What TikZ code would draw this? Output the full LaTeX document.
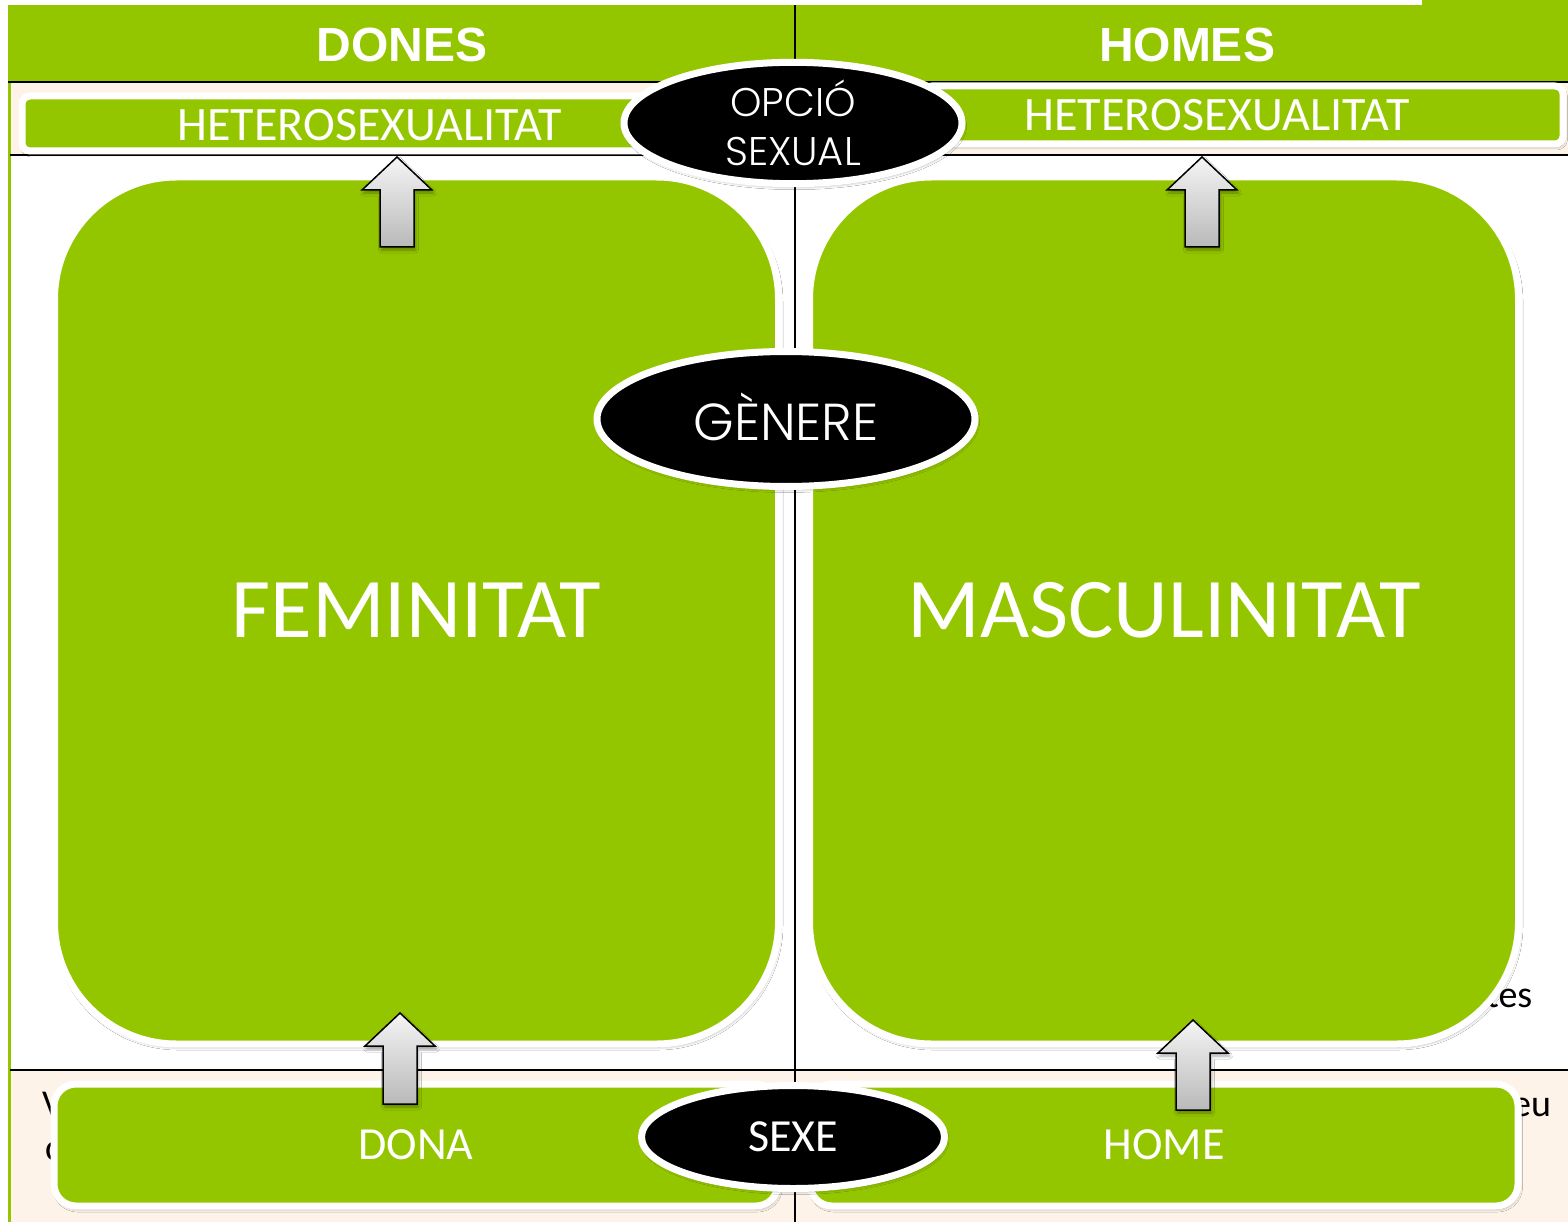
\documentclass[tikz,border=0pt]{standalone}
\usepackage{fontspec}
\setmainfont{Carlito}
\newfontfamily\hdrfont{Liberation Sans}
\newfontfamily\geofont{Poppins}[UprightFont={* Light}]
\usetikzlibrary{shapes.geometric,shadows.blur}
\definecolor{grn}{RGB}{148,198,0}
\definecolor{crm}{RGB}{253,243,232}
\tikzset{
  softshadow/.style={blur shadow={shadow xshift=1.5pt, shadow yshift=-3pt, shadow blur steps=6, shadow blur radius=3pt, shadow opacity=35}},
  bigbox/.style={rectangle, rounded corners=122pt, fill=grn, draw=white, line width=7pt, softshadow, text=white, font=\fontsize{85}{90}\selectfont, inner sep=0pt},
  barbox/.style={rectangle, rounded corners=8pt, fill=grn, draw=white, line width=7pt, softshadow, inner sep=0pt},
  basebox/.style={rectangle, rounded corners=22pt, fill=grn, draw=white, line width=7pt, softshadow, text=white, font=\fontsize{46}{50}\selectfont, inner sep=0pt},
  bartext/.style={text=white, font=\fontsize{48}{50}\selectfont, inner sep=0pt},
  hdrtext/.style={text=white, font=\hdrfont\bfseries\fontsize{48}{50}\selectfont, inner sep=0pt},
  oval/.style={ellipse, fill=black, draw=white, line width=7pt, softshadow, text=white, inner sep=0pt, align=center},
  blockarrow/.style={draw=black, line width=1.5pt, top color=gray!8, bottom color=gray!55, softshadow, line join=miter},
  rule/.style={black, line width=2pt},
  ghost/.style={text=black, font=\fontsize{38}{40}\selectfont, inner sep=0pt, anchor=base west},
}
\newcommand\myuparrow[4]{%
  \draw[blockarrow] ({#1-17},#4) -- ({#1-17},#3) -- ({#1-35},#3) -- (#1,#2)
    -- ({#1+35},#3) -- ({#1+17},#3) -- ({#1+17},#4) -- cycle;}
\begin{document}
\begin{tikzpicture}[x=1pt,y=-1pt]
\useasboundingbox (0,0) rectangle (1568,1222);
\fill[white] (0,0) rectangle (1568,1222);
% table background
\fill[grn] (8,5) rectangle (1568,82);
\fill[grn] (1422,0) rectangle (1568,5);
\fill[crm] (10,83) rectangle (1568,155);
\fill[crm] (10,1070) rectangle (1568,1222);
\draw[grn, line width=3pt] (9,5) -- (9,1222);
\draw[rule] (8,82) -- (1568,82);
\draw[rule] (10,155) -- (1568,155);
\draw[rule] (10,1070) -- (1568,1070);
\draw[rule] (795,5) -- (795,1222);
% header texts
\node[hdrtext] (dones) at (402,45) {DONES};
\node[hdrtext] (homes) at (1187,45) {HOMES};
% text fragments behind the boxes
\node[ghost] (g1) at (1486,1007) {tes};
\node[ghost] (g2) at (1512,1116) {eu};
\node[ghost] (g3) at (42,1116) {V};
\node[ghost] (g4) at (45,1160) {c};
% big boxes
\node[bigbox, minimum width=724pt, minimum height=867pt] (fem) at (416.5,610.5) {FEMINITAT};
\node[bigbox, minimum width=709pt, minimum height=867pt] (masc) at (1164,610.5) {MASCULINITAT};
% sexual orientation bars
\node[barbox, minimum width=643pt, minimum height=55pt] (hetL) at (343.5,123.5) {};
\node[bartext] (hetLt) at (370,125) {HETEROSEXUALITAT};
\node[barbox, minimum width=639pt, minimum height=58pt] (hetR) at (1243.5,115) {};
\node[bartext] (hetRt) at (1217,115) {HETEROSEXUALITAT};
% sex bars
\node[basebox, minimum width=724pt, minimum height=122pt] (dona) at (416,1145) {DONA};
\node[basebox, minimum width=708pt, minimum height=122pt] (home) at (1164,1145) {HOME};
% arrows
\myuparrow{397}{157}{190}{247}
\myuparrow{1202}{157}{190}{247}
\myuparrow{400}{1013}{1046}{1104}
\myuparrow{1193}{1020}{1053}{1110}
% ovals
\node[oval, minimum width=338pt, minimum height=111pt, font=\geofont\fontsize{40}{47}\selectfont] (opcio) at (793,123) {\raisebox{2pt}{OPCIÓ}\\SEXUAL};
\node[oval, minimum width=378pt, minimum height=135pt, font=\geofont\fontsize{52}{56}\selectfont] (genere) at (786,419) {\raisebox{5pt}{GÈNERE}};
\node[oval, minimum width=303pt, minimum height=103pt, font=\fontsize{46}{50}\selectfont] (sexe) at (793,1137) {SEXE};
\end{tikzpicture}
\end{document}
